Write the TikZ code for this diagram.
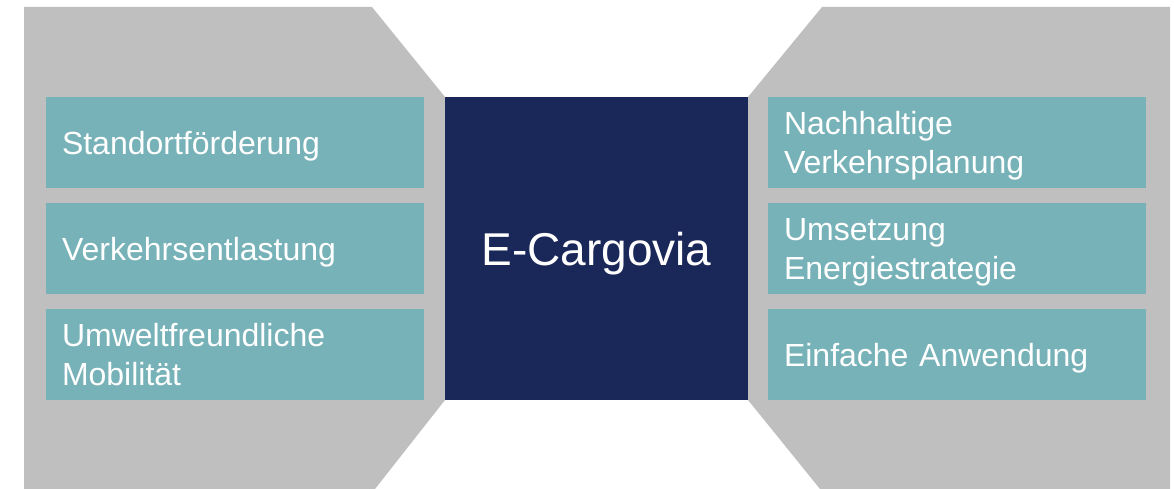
\documentclass[tikz,border=0pt]{standalone}
\usepackage{fontspec}
\setmainfont{Liberation Sans}[WordSpace=0.7]
\usetikzlibrary{positioning}
\definecolor{greyback}{HTML}{BFBFBF}
\definecolor{tealbox}{HTML}{77B2B8}
\definecolor{navybox}{HTML}{1A2759}
\begin{document}
\begin{tikzpicture}[x=1pt, y=-1pt,
  every node/.style={outer sep=0pt, text=white, text depth=0pt},
  goalbox/.style={fill=tealbox, minimum width=378pt, minimum height=91pt, inner xsep=16pt,
    text width=346pt, align=left, font=\fontsize{32}{39}\selectfont},
  twolines/.style={text depth=39pt}]
  \useasboundingbox (0,0) rectangle (1174,489);
  % Grey background shapes
  \fill[greyback] (24,7) -- (372,7) -- (445,97) -- (445,400) -- (375,489) -- (24,489) -- cycle;
  \fill[greyback] (1170,7) -- (822,7) -- (748,97) -- (748,400) -- (820,489) -- (1170,489) -- cycle;

  % Centre box
  \node[fill=navybox, minimum width=303pt, minimum height=303pt, font=\fontsize{46}{55}\selectfont] (core) at (596.5,248.5) {E-Cargovia};

  % Left boxes
  \node[goalbox] (site)    at (235,142.5) {Standortförderung};
  \node[goalbox] (traffic) at (235,248.5) {Verkehrsentlastung};
  \node[goalbox, twolines] (eco) at (235,354.5) {Umweltfreundliche\\Mobilität};

  % Right boxes
  \node[goalbox, twolines] (plan)   at (957,142.5) {Nachhaltige\\Verkehrsplanung};
  \node[goalbox, twolines] (energy) at (957,248.5) {Umsetzung\\Energiestrategie};
  \node[goalbox] (easy)   at (957,354.5) {Einfache Anwendung};
\end{tikzpicture}
\end{document}
